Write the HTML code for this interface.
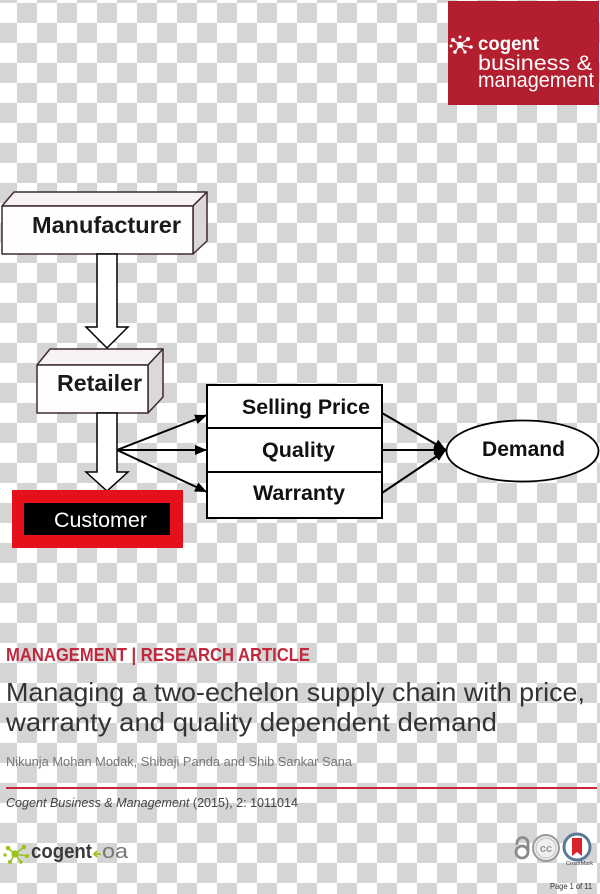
<!DOCTYPE html>
<html>
<head>
<meta charset="utf-8">
<style>
  html, body { margin:0; padding:0; width:600px; height:894px; overflow:hidden; background:#fff; }
  svg { display:block; }
  text { font-family: "Liberation Sans", Arial, sans-serif; }
</style>
</head>
<body>
<svg width="600" height="894" viewBox="0 0 600 894" xmlns="http://www.w3.org/2000/svg">
  <defs>
    <pattern id="chk" patternUnits="userSpaceOnUse" x="-3" y="3" width="40" height="40">
      <rect x="0" y="0" width="40" height="40" fill="#ffffff"/>
      <rect x="20" y="0" width="20" height="20" fill="#d5d5d5"/>
      <rect x="0" y="20" width="20" height="20" fill="#d5d5d5"/>
    </pattern>
    <marker id="ah" viewBox="0 0 12 10" refX="12" refY="5" markerWidth="12" markerHeight="10" markerUnits="userSpaceOnUse" orient="auto">
      <path d="M0,0 L12,5 L0,10 z" fill="#000"/>
    </marker>
  </defs>

  <!-- checker background -->
  <rect x="0" y="0" width="600" height="894" fill="url(#chk)"/>

  <!-- Top-right logo -->
  <rect x="448" y="1" width="151" height="104" fill="#b31f2e"/>
  <g fill="#fff" stroke="#fff" stroke-width="1.4">
    <line x1="460" y1="45" x2="453" y2="40"/>
    <line x1="460" y1="45" x2="468" y2="39"/>
    <line x1="460" y1="45" x2="470" y2="47"/>
    <line x1="460" y1="45" x2="455" y2="52"/>
    <line x1="460" y1="45" x2="465" y2="52"/>
    <circle cx="460" cy="45" r="3.2" stroke="none"/>
    <circle cx="453" cy="40" r="2" stroke="none"/>
    <circle cx="468" cy="39" r="2" stroke="none"/>
    <circle cx="471" cy="47" r="1.8" stroke="none"/>
    <circle cx="455" cy="52" r="1.8" stroke="none"/>
    <circle cx="465" cy="52" r="1.6" stroke="none"/>
    <circle cx="451" cy="46" r="1.5" stroke="none"/>
    <circle cx="460" cy="37" r="1.5" stroke="none"/>
  </g>
  <text x="478" y="50" font-size="19" font-weight="bold" fill="#fff" textLength="61" lengthAdjust="spacingAndGlyphs">cogent</text>
  <text x="478" y="70" font-size="21" fill="#fff" textLength="114" lengthAdjust="spacingAndGlyphs">business &amp;</text>
  <text x="478" y="87" font-size="21" fill="#fff" textLength="116" lengthAdjust="spacingAndGlyphs">management</text>

  <!-- Manufacturer 3D box -->
  <g stroke="#3d2b2f" stroke-width="1.5" stroke-linejoin="round">
    <polygon points="2,206 14,192 207,192 193,206" fill="#f7f3f3"/>
    <polygon points="193,206 207,192 207,241 193,254" fill="#dcd8d8"/>
    <rect x="2" y="206" width="191" height="48" fill="#fffdfd"/>
  </g>
  <text x="32" y="233" font-size="23" font-weight="bold" fill="#1a1a1a" textLength="149" lengthAdjust="spacingAndGlyphs">Manufacturer</text>

  <!-- Block arrow 1 -->
  <polygon points="97,254 117,254 117,327 128,327 107,348 86,327 97,327" fill="#fff" stroke="#000" stroke-width="1.5" stroke-linejoin="miter"/>

  <!-- Retailer 3D box -->
  <g stroke="#3d2b2f" stroke-width="1.5" stroke-linejoin="round">
    <polygon points="37,365 50,349 163,349 148,365" fill="#f7f3f3"/>
    <polygon points="148,365 163,349 163,397 148,413" fill="#dcd8d8"/>
    <rect x="37" y="365" width="111" height="48" fill="#fffdfd"/>
  </g>
  <text x="57" y="391" font-size="23" font-weight="bold" fill="#1a1a1a" textLength="85" lengthAdjust="spacingAndGlyphs">Retailer</text>

  <!-- Block arrow 2 -->
  <polygon points="97,413 117,413 117,472 128,472 107,491 86,472 97,472" fill="#fff" stroke="#000" stroke-width="1.5" stroke-linejoin="miter"/>

  <!-- Customer -->
  <rect x="12" y="490" width="171" height="58" fill="#e5101a"/>
  <rect x="24" y="503" width="146" height="32" fill="#000"/>
  <text x="54" y="527" font-size="21" fill="#fff" textLength="93" lengthAdjust="spacingAndGlyphs">Customer</text>

  <!-- connectors from retailer to attributes -->
  <g stroke="#000" stroke-width="2" fill="none">
    <line x1="117" y1="450" x2="207" y2="415" marker-end="url(#ah)"/>
    <line x1="117" y1="450" x2="207" y2="450" marker-end="url(#ah)"/>
    <line x1="117" y1="450" x2="207" y2="492" marker-end="url(#ah)"/>
  </g>

  <!-- Attributes stacked box -->
  <rect x="207" y="385" width="175" height="133" fill="#fff" stroke="#000" stroke-width="2"/>
  <line x1="207" y1="428" x2="382" y2="428" stroke="#000" stroke-width="2"/>
  <line x1="207" y1="472" x2="382" y2="472" stroke="#000" stroke-width="2"/>
  <text x="242" y="414" font-size="21" font-weight="bold" fill="#111" textLength="128" lengthAdjust="spacingAndGlyphs">Selling Price</text>
  <text x="262" y="457" font-size="21" font-weight="bold" fill="#111" textLength="73" lengthAdjust="spacingAndGlyphs">Quality</text>
  <text x="253" y="500" font-size="21" font-weight="bold" fill="#111" textLength="92" lengthAdjust="spacingAndGlyphs">Warranty</text>

  <!-- connectors to Demand -->
  <g stroke="#000" stroke-width="2" fill="none">
    <line x1="382" y1="413" x2="446" y2="450" marker-end="url(#ah)"/>
    <line x1="382" y1="450" x2="446" y2="450" marker-end="url(#ah)"/>
    <line x1="382" y1="493" x2="446" y2="450" marker-end="url(#ah)"/>
  </g>

  <!-- Demand ellipse -->
  <ellipse cx="522.5" cy="451" rx="76" ry="30.5" fill="#fff" stroke="#000" stroke-width="1.8"/>
  <text x="482" y="456" font-size="21" font-weight="bold" fill="#111" textLength="83" lengthAdjust="spacingAndGlyphs">Demand</text>

  <!-- Article header -->
  <text x="6" y="661" font-size="18" font-weight="bold" fill="#c0283d" textLength="304" lengthAdjust="spacingAndGlyphs">MANAGEMENT | RESEARCH ARTICLE</text>
  <text x="6" y="701" font-size="26" fill="#333" textLength="579" lengthAdjust="spacingAndGlyphs">Managing a two-echelon supply chain with price,</text>
  <text x="6" y="731" font-size="26" fill="#333" textLength="491" lengthAdjust="spacingAndGlyphs">warranty and quality dependent demand</text>
  <text x="6" y="766" font-size="13" fill="#777" textLength="346" lengthAdjust="spacingAndGlyphs">Nikunja Mohan Modak, Shibaji Panda and Shib Sankar Sana</text>
  <line x1="6" y1="788" x2="597" y2="788" stroke="#c8283c" stroke-width="2"/>
  <text x="6" y="807" font-size="12.5" fill="#444" textLength="292" lengthAdjust="spacingAndGlyphs"><tspan font-style="italic">Cogent Business &amp; Management</tspan> (2015), 2: 1011014</text>

  <!-- bottom-left cogent oa logo -->
  <g fill="#9cc31c" stroke="#9cc31c" stroke-width="1.6">
    <line x1="15" y1="854" x2="8" y2="848"/>
    <line x1="15" y1="854" x2="24" y2="847"/>
    <line x1="15" y1="854" x2="27" y2="856"/>
    <line x1="15" y1="854" x2="10" y2="862"/>
    <line x1="15" y1="854" x2="21" y2="862"/>
    <circle cx="15" cy="854" r="3.6" stroke="none"/>
    <circle cx="8" cy="848" r="2.3" stroke="none"/>
    <circle cx="24" cy="847" r="2.3" stroke="none"/>
    <circle cx="27" cy="856" r="2" stroke="none"/>
    <circle cx="10" cy="862" r="2" stroke="none"/>
    <circle cx="21" cy="862" r="1.8" stroke="none"/>
    <circle cx="5" cy="855" r="1.7" stroke="none"/>
  </g>
  <text x="31" y="858" font-size="20" font-weight="bold" fill="#3a3a3a" textLength="61" lengthAdjust="spacingAndGlyphs">cogent</text>
  <g stroke="#9cc31c" stroke-width="1.8" fill="none">
    <line x1="94" y1="854" x2="101" y2="854"/>
    <polyline points="97,851 94,854 97,857"/>
  </g>
  <text x="102" y="858" font-size="20" fill="#777" textLength="26" lengthAdjust="spacingAndGlyphs">oa</text>

  <!-- bottom-right icons -->
  <g fill="none" stroke="#8a8a8a" stroke-width="2.8">
    <circle cx="522" cy="852" r="6"/>
    <path d="M528 851 V843 A5.5 5.5 0 0 0 517 843 V845"/>
  </g>
  <circle cx="546" cy="848" r="13" fill="#efefef" stroke="#9a9a9a" stroke-width="2"/>
  <circle cx="546" cy="848" r="10" fill="none" stroke="#c0c0c0" stroke-width="1"/>
  <text x="546" y="852" font-size="11" font-weight="bold" fill="#9a9a9a" text-anchor="middle">cc</text>
  <circle cx="577" cy="847" r="13" fill="#fff" stroke="#5a7a96" stroke-width="3"/>
  <path d="M572 838 h10 v18 l-5 -4 l-5 4 z" fill="#d8232a"/>
  <text x="566" y="865" font-size="5" fill="#333" textLength="27" lengthAdjust="spacingAndGlyphs">CrossMark</text>
  <text x="550" y="889" font-size="8.5" fill="#333" textLength="42" lengthAdjust="spacingAndGlyphs">Page 1 of 11</text>
</svg>
</body>
</html>
